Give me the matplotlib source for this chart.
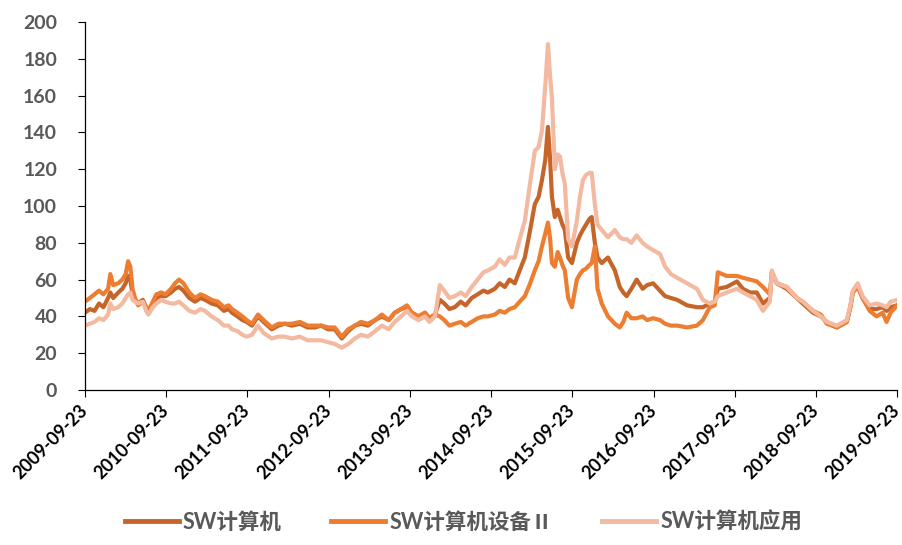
# reqs: pandas and matplotlib

import numpy as np
import pandas as pd
import matplotlib.pyplot as plt

plt.rcParams['font.family'] = ['Lato', 'Noto Sans CJK SC', 'DejaVu Sans']

dates = [
  '2009-09-23', '2009-10-15', '2009-11-05', '2009-11-25', '2009-12-15', '2010-01-05', '2010-01-15', '2010-01-28',
  '2010-02-20', '2010-03-10', '2010-03-25', '2010-04-05', '2010-04-15', '2010-04-25', '2010-05-06', '2010-05-20',
  '2010-06-10', '2010-06-25', '2010-07-05', '2010-07-25', '2010-08-10', '2010-09-01', '2010-09-20', '2010-10-15',
  '2010-11-02', '2010-11-20', '2010-12-10', '2011-01-05', '2011-01-31', '2011-02-25', '2011-03-17', '2011-04-15',
  '2011-05-14', '2011-06-10', '2011-07-01', '2011-07-16', '2011-08-10', '2011-09-01', '2011-09-20', '2011-10-14',
  '2011-11-10', '2011-12-05', '2012-01-11', '2012-02-10', '2012-03-10', '2012-04-10', '2012-05-17', '2012-06-20',
  '2012-07-23', '2012-08-20', '2012-09-20', '2012-10-20', '2012-11-21', '2012-12-20', '2013-01-19', '2013-02-15',
  '2013-03-18', '2013-04-20', '2013-05-20', '2013-06-20', '2013-07-17', '2013-08-15', '2013-09-10', '2013-10-02',
  '2013-11-01', '2013-11-30', '2013-12-20', '2014-01-14', '2014-02-05', '2014-02-25', '2014-03-20', '2014-04-13',
  '2014-05-10', '2014-06-01', '2014-06-28', '2014-07-25', '2014-08-20', '2014-09-09', '2014-10-10', '2014-11-01',
  '2014-11-24', '2014-12-15', '2015-01-08', '2015-01-30', '2015-02-22', '2015-03-15', '2015-04-08', '2015-04-25',
  '2015-05-10', '2015-05-25', '2015-06-06', '2015-06-16', '2015-06-24', '2015-07-07', '2015-07-20', '2015-07-30',
  '2015-08-10', '2015-08-21', '2015-09-05', '2015-09-22', '2015-10-14', '2015-10-28', '2015-11-10', '2015-11-25',
  '2015-12-10', '2015-12-20', '2016-01-03', '2016-01-15', '2016-02-03', '2016-03-02', '2016-04-02', '2016-04-24',
  '2016-05-10', '2016-05-25', '2016-06-15', '2016-07-09', '2016-08-05', '2016-08-25', '2016-09-21', '2016-10-22',
  '2016-11-14', '2016-12-10', '2017-01-07', '2017-02-21', '2017-04-06', '2017-05-03', '2017-06-03', '2017-06-25',
  '2017-07-09', '2017-08-18', '2017-10-03', '2017-10-30', '2017-12-01', '2017-12-31', '2018-01-28', '2018-02-28',
  '2018-03-09', '2018-03-31', '2018-05-15', '2018-06-29', '2018-07-26', '2018-09-10', '2018-10-15', '2018-11-11',
  '2018-12-26', '2019-02-09', '2019-02-25', '2019-03-08', '2019-03-30', '2019-04-21', '2019-05-23', '2019-06-23',
  '2019-07-20', '2019-08-07', '2019-08-25', '2019-09-23',
]

sw_computer = [
  42, 44, 43, 47, 45, 50, 53, 50, 53, 55, 58, 62, 60, 52, 49, 47,
  49, 45, 43, 47, 50, 51, 51, 53, 55, 56, 54, 50, 48, 50, 49, 47,
  46, 43, 44, 42, 40, 38, 37, 35, 40, 37, 33, 35, 36, 35, 36, 34,
  34, 35, 33, 33, 28, 32, 35, 36, 35, 38, 40, 38, 42, 44, 45, 42,
  40, 42, 39, 41, 49, 47, 44, 45, 48, 46, 50, 52, 54, 53, 55, 58,
  56, 60, 58, 65, 72, 85, 101, 105, 114, 125, 143, 125, 105, 94, 98, 94,
  90, 87, 72, 69, 80, 84, 87, 90, 93, 94, 80, 72, 69, 72, 65, 56,
  53, 51, 55, 60, 55, 57, 58, 54, 51, 50, 49, 46, 45, 45, 47, 48,
  55, 56, 59, 55, 53, 53, 47, 50, 64, 58, 55, 50, 47, 42, 40, 37,
  34, 37, 45, 53, 57, 50, 44, 44, 45, 43, 45, 46,
]

sw_equipment = [
  48, 50, 52, 54, 52, 55, 63, 57, 58, 60, 63, 70, 67, 55, 50, 46,
  48, 45, 43, 48, 52, 53, 52, 55, 58, 60, 58, 53, 50, 52, 51, 49,
  48, 45, 46, 44, 42, 40, 38, 36, 41, 38, 34, 36, 36, 36, 37, 35,
  35, 35, 34, 34, 29, 33, 35, 37, 36, 38, 41, 38, 42, 44, 46, 42,
  40, 42, 39, 41, 40, 38, 35, 36, 37, 35, 37, 39, 40, 40, 41, 43,
  42, 44, 45, 48, 51, 57, 65, 70, 78, 85, 91, 82, 69, 67, 75, 72,
  68, 65, 50, 45, 60, 63, 65, 66, 68, 69, 78, 55, 47, 40, 36, 34,
  37, 42, 39, 39, 40, 38, 39, 38, 36, 35, 35, 34, 35, 38, 45, 46,
  64, 62, 62, 61, 60, 59, 56, 52, 64, 58, 56, 50, 48, 43, 41, 36,
  34, 37, 45, 53, 56, 50, 43, 40, 42, 37, 42, 46,
]

sw_application = [
  35, 36, 37, 39, 38, 41, 47, 44, 45, 47, 50, 52, 53, 49, 48, 47,
  48, 43, 41, 45, 47, 49, 48, 47, 47, 48, 46, 43, 42, 44, 43, 40,
  38, 35, 35, 33, 32, 30, 29, 30, 35, 31, 28, 29, 29, 28, 29, 27,
  27, 27, 26, 25, 23, 25, 28, 30, 29, 32, 35, 33, 37, 40, 43, 40,
  38, 40, 37, 40, 57, 54, 50, 51, 53, 51, 56, 60, 64, 65, 67, 71,
  68, 72, 72, 82, 92, 110, 130, 132, 141, 165, 188, 170, 159, 120, 128, 127,
  118, 112, 82, 78, 92, 105, 114, 117, 118, 118, 101, 90, 87, 83, 87, 83,
  82, 82, 80, 84, 80, 78, 76, 74, 67, 63, 61, 58, 55, 49, 47, 48,
  51, 53, 55, 53, 51, 49, 43, 48, 65, 58, 56, 50, 48, 43, 40, 37,
  35, 38, 46, 54, 58, 51, 46, 47, 46, 45, 48, 49,
]

tick_labels = ['2009-09-23', '2010-09-23', '2011-09-23', '2012-09-23', '2013-09-23', '2014-09-23',
               '2015-09-23', '2016-09-23', '2017-09-23', '2018-09-23', '2019-09-23']

df = pd.DataFrame({
  'SW计算机': sw_computer,
  'SW计算机设备Ⅱ': sw_equipment,
  'SW计算机应用': sw_application,
}, index=pd.to_datetime(dates))

colors = ['#C5652A', '#ED7D31', '#F4B9A1']

fig = plt.figure(figsize=(9.02, 5.45), dpi=100)
ax = fig.add_axes([0.0942, 0.2844, 0.9003, 0.6752])

for col, c in zip(df.columns, colors):
  ax.plot(df.index, df[col], color=c, lw=3.0, label=col, solid_joinstyle='round')

ticks = pd.to_datetime(tick_labels)
ax.set_xlim(ticks[0], ticks[-1])
ax.set_xticks(ticks)
ax.set_xticklabels(tick_labels, rotation=45, ha='right', va='center', rotation_mode='anchor',
                   fontsize=13, fontweight='bold', color='black')
ax.set_ylim(0, 200)
ax.set_yticks(np.arange(0, 201, 20))
ax.tick_params(axis='y', labelsize=14, labelcolor='#595959', length=5, width=0.8, pad=15)
ax.tick_params(axis='x', length=5, width=0.8, pad=8)
for lbl in ax.get_yticklabels():
  lbl.set_fontweight('bold')

for s in ['top', 'right']:
  ax.spines[s].set_visible(False)
for s in ['left', 'bottom']:
  ax.spines[s].set_linewidth(0.9)

leg = fig.legend(loc='center', bbox_to_anchor=(0.514, 0.042), ncol=3, frameon=False,
                 handlelength=2.5, columnspacing=2.3, handletextpad=0.2,
                 prop={'size': 15.5, 'weight': 'bold'})
for t in leg.get_texts():
  t.set_color('#595959')
for h in leg.get_lines():
  h.set_linewidth(3.5)

plt.savefig('out.png', dpi=100)
plt.close('all')
